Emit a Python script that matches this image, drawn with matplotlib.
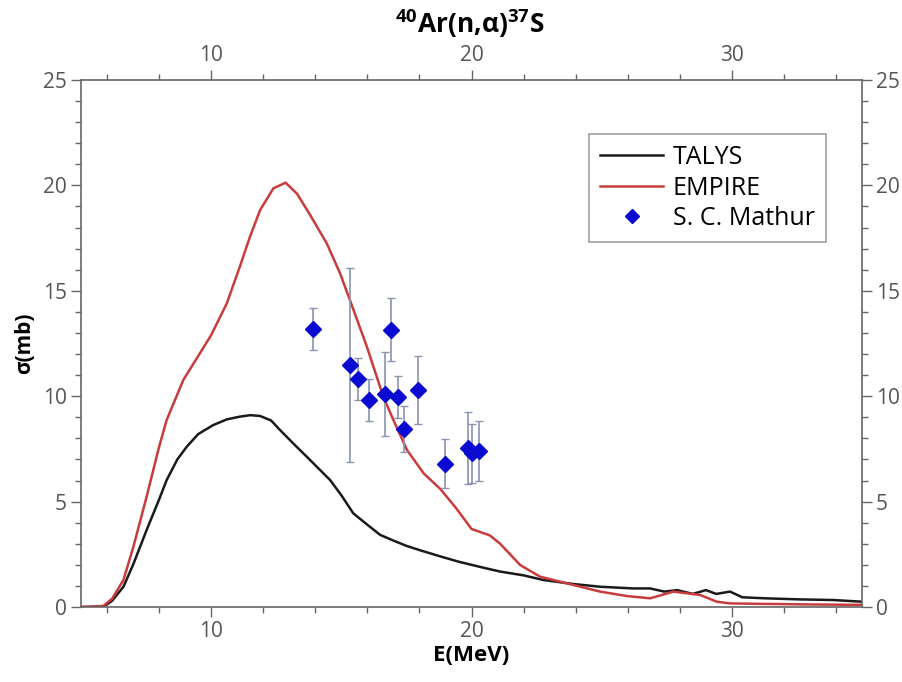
import matplotlib
matplotlib.use("Agg")
import matplotlib.pyplot as plt
from matplotlib.ticker import MultipleLocator
from matplotlib.lines import Line2D

plt.rcParams['font.family'] = ['Open Sans', 'DejaVu Sans']
plt.rcParams['mathtext.fontset'] = 'custom'
plt.rcParams['mathtext.rm'] = 'Open Sans:bold'
plt.rcParams['mathtext.bf'] = 'Open Sans:bold'

# TALYS curve
talys_e = [5.0, 5.86, 6.2, 6.63, 7.0, 7.52, 8.0, 8.29, 8.7, 9.06, 9.5, 10.08, 10.6, 11.1,
           11.5, 11.88, 12.3, 12.64, 13.2, 13.67, 14.1, 14.57, 15.0, 15.46, 16.0, 16.49,
           17.0, 17.5, 18.0, 18.8, 19.5, 20.0, 20.5, 21.1, 22.0, 22.76, 23.91, 24.94, 26.2,
           26.86, 27.4, 27.9, 28.5, 29.0, 29.4, 29.93, 30.4, 31.3, 32.6, 33.9, 35.0]
talys_s = [0.0, 0.0, 0.3, 0.96, 2.0, 3.65, 5.1, 6.02, 7.0, 7.6, 8.2, 8.63, 8.9, 9.03,
           9.1, 9.06, 8.85, 8.40, 7.7, 7.13, 6.6, 6.02, 5.3, 4.44, 3.9, 3.42,
           3.15, 2.9, 2.7, 2.4, 2.15, 2.0, 1.85, 1.68, 1.5, 1.28, 1.09, 0.96, 0.88,
           0.88, 0.73, 0.8, 0.62, 0.8, 0.62, 0.73, 0.46, 0.41, 0.36, 0.33, 0.25]

# EMPIRE curve
empire_e = [5.0, 5.86, 6.2, 6.63, 7.0, 7.52, 8.0, 8.29, 8.93, 9.5, 10.0, 10.6, 11.1,
            11.5, 11.88, 12.39, 12.86, 13.3, 13.8, 14.44, 14.95, 15.33, 15.98, 16.61, 17.0,
            17.52, 18.16, 18.8, 19.4, 20.0, 20.7, 21.1, 21.87, 22.63, 23.66, 24.94, 25.96,
            26.86, 27.76, 28.78, 29.42, 29.93, 31.0, 33.0, 35.0]
empire_s = [0.0, 0.05, 0.4, 1.28, 2.8, 5.23, 7.6, 8.87, 10.77, 11.9, 12.9, 14.4, 16.14,
            17.6, 18.83, 19.86, 20.13, 19.6, 18.6, 17.25, 15.83, 14.56, 12.35, 9.98, 8.87,
            7.45, 6.34, 5.6, 4.7, 3.7, 3.4, 3.0, 1.99, 1.44, 1.12, 0.73, 0.52,
            0.41, 0.73, 0.57, 0.25, 0.17, 0.15, 0.12, 0.1]

# S. C. Mathur experimental data
exp_e = [13.93, 15.35, 15.64, 16.05, 16.67, 16.91, 17.17, 17.41, 17.95, 19.0, 19.87, 20.02, 20.28]
exp_s = [13.2, 11.5, 10.8, 9.8, 10.1, 13.15, 9.95, 8.45, 10.3, 6.8, 7.55, 7.3, 7.4]
exp_err = [1.0, 4.6, 1.0, 1.0, 2.0, 1.5, 1.0, 1.1, 1.6, 1.15, 1.7, 1.4, 1.4]

xticks = [10, 20, 30]
yticks = [0, 5, 10, 15, 20, 25]

fig = plt.figure(figsize=(9.02, 6.82), dpi=100)
ax = fig.add_axes([0.0898, 0.110, 0.8659, 0.7727])

black = '#1a1a1a'
red = '#c83c3c'
blue = '#0a0ad0'

ax.plot(talys_e, talys_s, color=black, lw=1.8)
ax.plot(empire_e, empire_s, color=red, lw=1.8)
ax.errorbar(exp_e, exp_s, yerr=exp_err, fmt='D', color=blue, ms=8,
            ecolor='#8a94b0', elinewidth=1.2, capsize=3, capthick=1.0, zorder=5)

ax.set_xlim(5, 35)
ax.set_ylim(0, 25)
ax.set_xticks(xticks)
ax.set_yticks(yticks)
ax.xaxis.set_minor_locator(MultipleLocator(2))
ax.yaxis.set_minor_locator(MultipleLocator(1))

gray = '#666666'
for sp in ax.spines.values():
    sp.set_color(gray)
    sp.set_linewidth(1.2)
ax.tick_params(which='both', direction='out', colors=gray, labelcolor='#555555',
               top=True, right=True, labeltop=True, labelright=True, labelsize=15)
ax.tick_params(which='major', length=7, width=1.0, pad=3)
ax.tick_params(which='minor', length=4, width=1.0)

ax.set_xlabel('E(MeV)', fontsize=16, fontweight='bold', labelpad=2)
ax.set_ylabel('σ(mb)', fontsize=15, fontweight='bold', labelpad=6)
fig.text(0.521, 0.966, r'$^{40}$Ar(n,α)$^{37}$S', fontsize=19, fontweight='bold',
         ha='center', va='center')

handles = [Line2D([], [], color=black, lw=1.8),
           Line2D([], [], color=red, lw=1.8),
           Line2D([], [], color=blue, marker='D', ls='none', ms=7)]
labels = ['TALYS', 'EMPIRE', 'S. C. Mathur']
leg = ax.legend(handles, labels, loc='upper right', bbox_to_anchor=(0.954, 0.898),
                fontsize=18, frameon=True, fancybox=False, handlelength=2.5,
                handletextpad=0.4, borderpad=0.45, labelspacing=0.22, borderaxespad=0)
leg.get_frame().set_edgecolor('#888888')
leg.get_frame().set_linewidth(1.2)

fig.savefig('out.png', dpi=100)
